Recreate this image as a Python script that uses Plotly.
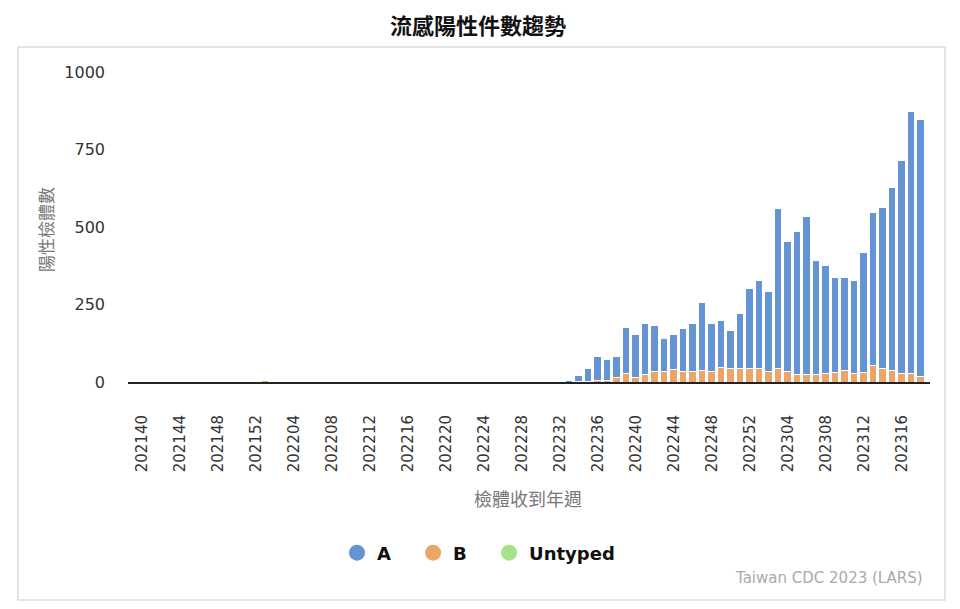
import plotly.graph_objects as go

weeks = [
    "202140", "202141", "202142", "202143", "202144", "202145", "202146", "202147", "202148",
    "202149", "202150", "202151", "202152",
    "202201", "202202", "202203", "202204", "202205", "202206", "202207", "202208", "202209",
    "202210", "202211", "202212", "202213", "202214", "202215", "202216", "202217", "202218",
    "202219", "202220", "202221", "202222", "202223", "202224", "202225", "202226", "202227",
    "202228", "202229", "202230", "202231", "202232", "202233", "202234", "202235", "202236",
    "202237", "202238", "202239", "202240", "202241", "202242", "202243", "202244", "202245",
    "202246", "202247", "202248", "202249", "202250", "202251", "202252",
    "202301", "202302", "202303", "202304", "202305", "202306", "202307", "202308", "202309",
    "202310", "202311", "202312", "202313", "202314", "202315", "202316", "202317", "202318",
]

flu_a = [
    0, 0, 0, 0, 0, 0, 0, 0, 0, 0, 0, 0, 0,
    0, 0, 0, 0, 0, 0, 0, 0, 0, 0, 0, 0, 0, 0, 0, 0, 0, 0,
    0, 0, 0, 0, 0, 0, 0, 0, 0, 0, 0, 0, 0, 0, 4, 19, 41, 78,
    65, 68, 149, 138, 163, 149, 108, 113, 138, 155, 221, 155, 152, 125, 180, 258,
    287, 257, 515, 418, 460, 510, 369, 349, 308, 301, 299, 388, 495, 521, 592, 687, 845, 827,
]

flu_b = [
    0, 0, 0, 0, 0, 0, 0, 0, 0, 0, 0, 3, 0,
    4, 3, 0, 3, 0, 0, 0, 0, 0, 0, 0, 3, 0, 3, 0, 0, 0, 0,
    0, 0, 0, 0, 0, 0, 0, 0, 0, 0, 0, 0, 0, 0, 0, 1, 1, 4,
    6, 14, 28, 14, 25, 33, 33, 39, 33, 33, 37, 33, 48, 42, 42, 45,
    42, 35, 44, 35, 24, 24, 24, 28, 30, 37, 28, 30, 53, 43, 37, 28, 26, 19,
]

untyped = [0] * len(weeks)

tick_weeks = ["202140", "202144", "202148", "202152", "202204", "202208", "202212",
              "202216", "202220", "202224", "202228", "202232", "202236", "202240",
              "202244", "202248", "202252", "202304", "202308", "202312", "202316"]

COL_A = "#6594d4"
COL_B = "#eca568"
COL_U = "#a4e38c"

fig = go.Figure()
for name, vals, col in [("B", flu_b, COL_B), ("A", flu_a, COL_A), ("Untyped", untyped, COL_U)]:
    fig.add_trace(go.Bar(x=weeks, y=vals, name=name, marker=dict(color=col, line=dict(color="white", width=1)),
                         showlegend=False))

PAD = "&nbsp;&nbsp;&nbsp;"
for name, col, pad in [("A", COL_A, PAD), ("B", COL_B, PAD), ("Untyped", COL_U, "")]:
    fig.add_trace(go.Scatter(x=[None], y=[None], mode="markers", name="<b>" + name + "</b>" + pad,
                             marker=dict(symbol="circle", size=16, color=col)))

# page body has an 8px margin; work in reference pixel coordinates and shift
OFF = 8
W, H = 960 - 2 * OFF, 609 - 2 * OFF
PL, PR, PT, PB = 128, 930, 72, 382  # plot area in reference pixels
L = PL - OFF
R = W - (PR - OFF)
T = PT - OFF
B = H - (PB - OFF)
pw, ph = W - L - R, H - T - B

def px(xp):
    return (xp - PL) / pw

def py(yp):
    return (PB - yp) / ph

fig.update_layout(
    width=W, height=H,
    margin=dict(l=L, r=R, t=T, b=B),
    barmode="stack", bargap=0.22,
    plot_bgcolor="white", paper_bgcolor="white",
    font=dict(family="DejaVu Sans", color="#333333"),
    xaxis=dict(type="category", range=[-1.44, 82.98], tickmode="array", tickvals=tick_weeks, ticktext=tick_weeks,
               tickangle=-90, tickfont=dict(size=15, color="#333333"), showgrid=False,
               showline=True, linecolor="#222222", linewidth=2, ticks="", ticklabelstandoff=25),
    yaxis=dict(range=[0, 1000], tickvals=[0, 250, 500, 750, 1000], tickfont=dict(size=16, color="#333333"),
               showgrid=False, zeroline=False, showline=False, ticks="", ticklabelstandoff=22),
    legend=dict(orientation="h", x=px(337), xanchor="left", y=py(553), yanchor="middle",
                traceorder="normal",
                font=dict(size=18, color="#111111", family="DejaVu Sans")),
    shapes=[dict(type="rect", xref="paper", yref="paper", x0=px(18), x1=px(945), y0=py(600), y1=py(47),
                 line=dict(color="#dddddd", width=1.5), fillcolor="rgba(0,0,0,0)", layer="below")],
    annotations=[
        dict(text="<b>流感陽性件數趨勢</b>", xref="paper", yref="paper", x=px(478), y=py(24), showarrow=False,
             font=dict(family="Noto Sans CJK TC", size=22, color="#111111"), xanchor="center", yanchor="middle"),
        dict(text="陽性檢體數", xref="paper", yref="paper", x=px(45), y=py(230), textangle=-90, showarrow=False,
             font=dict(family="Noto Sans CJK TC", size=17, color="#777777"), xanchor="center", yanchor="middle"),
        dict(text="檢體收到年週", xref="paper", yref="paper", x=px(528), y=py(498), showarrow=False,
             font=dict(family="Noto Sans CJK TC", size=18, color="#777777"), xanchor="center", yanchor="middle"),
        dict(text="Taiwan CDC 2023 (LARS)", xref="paper", yref="paper", x=px(925), y=py(578), showarrow=False,
             font=dict(family="DejaVu Sans", size=15, color="#aaaaaa"), xanchor="right", yanchor="middle"),
    ],
)

fig.write_html("out.html")
